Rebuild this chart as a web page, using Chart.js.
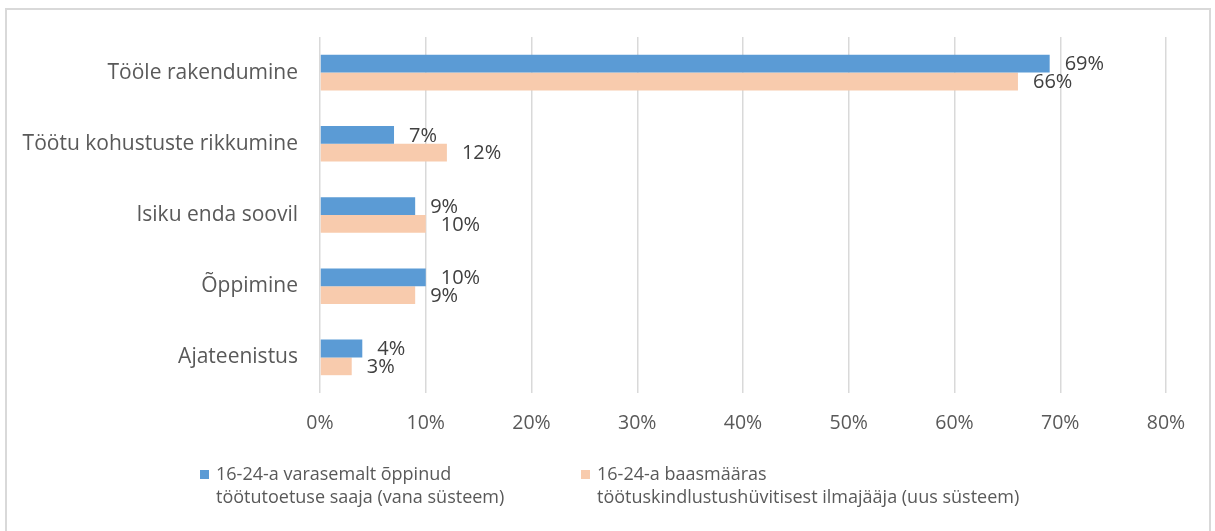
<!DOCTYPE html>
<html>
<head>
<meta charset="utf-8">
<script src="https://cdn.jsdelivr.net/npm/chart.js@4/dist/chart.umd.min.js"></script>
<style>
  html, body { margin: 0; padding: 0; background: #fff; }
  #wrap { position: relative; width: 1215px; height: 531px; overflow: hidden; }
  #frame { position: absolute; left: 5px; top: 8px; width: 1206px; height: 530px; border: 2px solid #d9d9d9; box-sizing: border-box; }
  canvas { position: absolute; left: 0; top: 0; }
  .legend { position: absolute; top: 462px; padding-left: 16px; font-family: "Open Sans", sans-serif; font-size: 18px; color: #595959; line-height: 23px; }
  .legend i { position: absolute; left: 0; top: 8px; width: 9px; height: 9px; }
</style>
</head>
<body>
<div id="wrap">
  <div id="frame"></div>
  <canvas id="barchart" width="1215" height="531"></canvas>
  <div class="legend" style="left:200px"><i style="background:#5b9bd5"></i>16-24-a varasemalt õppinud<br>töötutoetuse saaja (vana süsteem)</div>
  <div class="legend" style="left:581px"><i style="background:#f8cbad"></i>16-24-a baasmääras<br>töötuskindlustushüvitisest ilmajääja (uus süsteem)</div>
</div>
<script>
// kategooriad ja väärtused (%)
const categories = ['Tööle rakendumine', 'Töötu kohustuste rikkumine', 'Isiku enda soovil', 'Õppimine', 'Ajateenistus'];
const oldSystem = [69, 7, 9, 10, 4];
const newSystem = [66, 12, 10, 9, 3];
const seriesNames = ['16-24-a varasemalt õppinud töötutoetuse saaja (vana süsteem)',
                     '16-24-a baasmääras töötuskindlustushüvitisest ilmajääja (uus süsteem)'];

// protsendid tulba otsa
const valueLabels = {
  id: 'valueLabels',
  afterDatasetsDraw(chart) {
    const ctx = chart.ctx;
    ctx.save();
    ctx.font = '20px "Open Sans", sans-serif';
    ctx.fillStyle = '#404040';
    ctx.textAlign = 'left';
    ctx.textBaseline = 'middle';
    chart.data.datasets.forEach((ds, i) => {
      const meta = chart.getDatasetMeta(i);
      meta.data.forEach((bar, j) => {
        ctx.fillText(ds.data[j] + '%', bar.x + 15, bar.y + 1);
      });
    });
    ctx.restore();
  }
};

new Chart(document.getElementById('barchart'), {
  type: 'bar',
  data: {
    labels: categories,
    datasets: [
      { label: seriesNames[0], data: oldSystem, backgroundColor: '#5b9bd5' },
      { label: seriesNames[1], data: newSystem, backgroundColor: '#f8cbad' }
    ]
  },
  options: {
    indexAxis: 'y',
    responsive: false,
    animation: false,
    layout: { padding: { top: 37, right: 49, left: 0, bottom: 0 } },
    datasets: { bar: { barPercentage: 1, categoryPercentage: 0.5 } },
    plugins: { legend: { display: false }, tooltip: { enabled: false } },
    scales: {
      x: {
        min: 0, max: 80,
        ticks: { stepSize: 10, padding: 19, color: '#595959',
                 font: { family: '"Open Sans", sans-serif', size: 19.5 },
                 callback: v => v + '%' },
        grid: { color: '#d9d9d9', lineWidth: 1.5, drawTicks: false },
        border: { display: false },
        afterFit(scale) { scale.height = 138; }
      },
      y: {
        ticks: { padding: 22, color: '#595959',
                 font: { family: '"Open Sans", sans-serif', size: 21 } },
        grid: { display: false, drawTicks: false },
        border: { display: false },
        afterFit(scale) { scale.width = 320; }
      }
    }
  },
  plugins: [valueLabels]
});
</script>
</body>
</html>
